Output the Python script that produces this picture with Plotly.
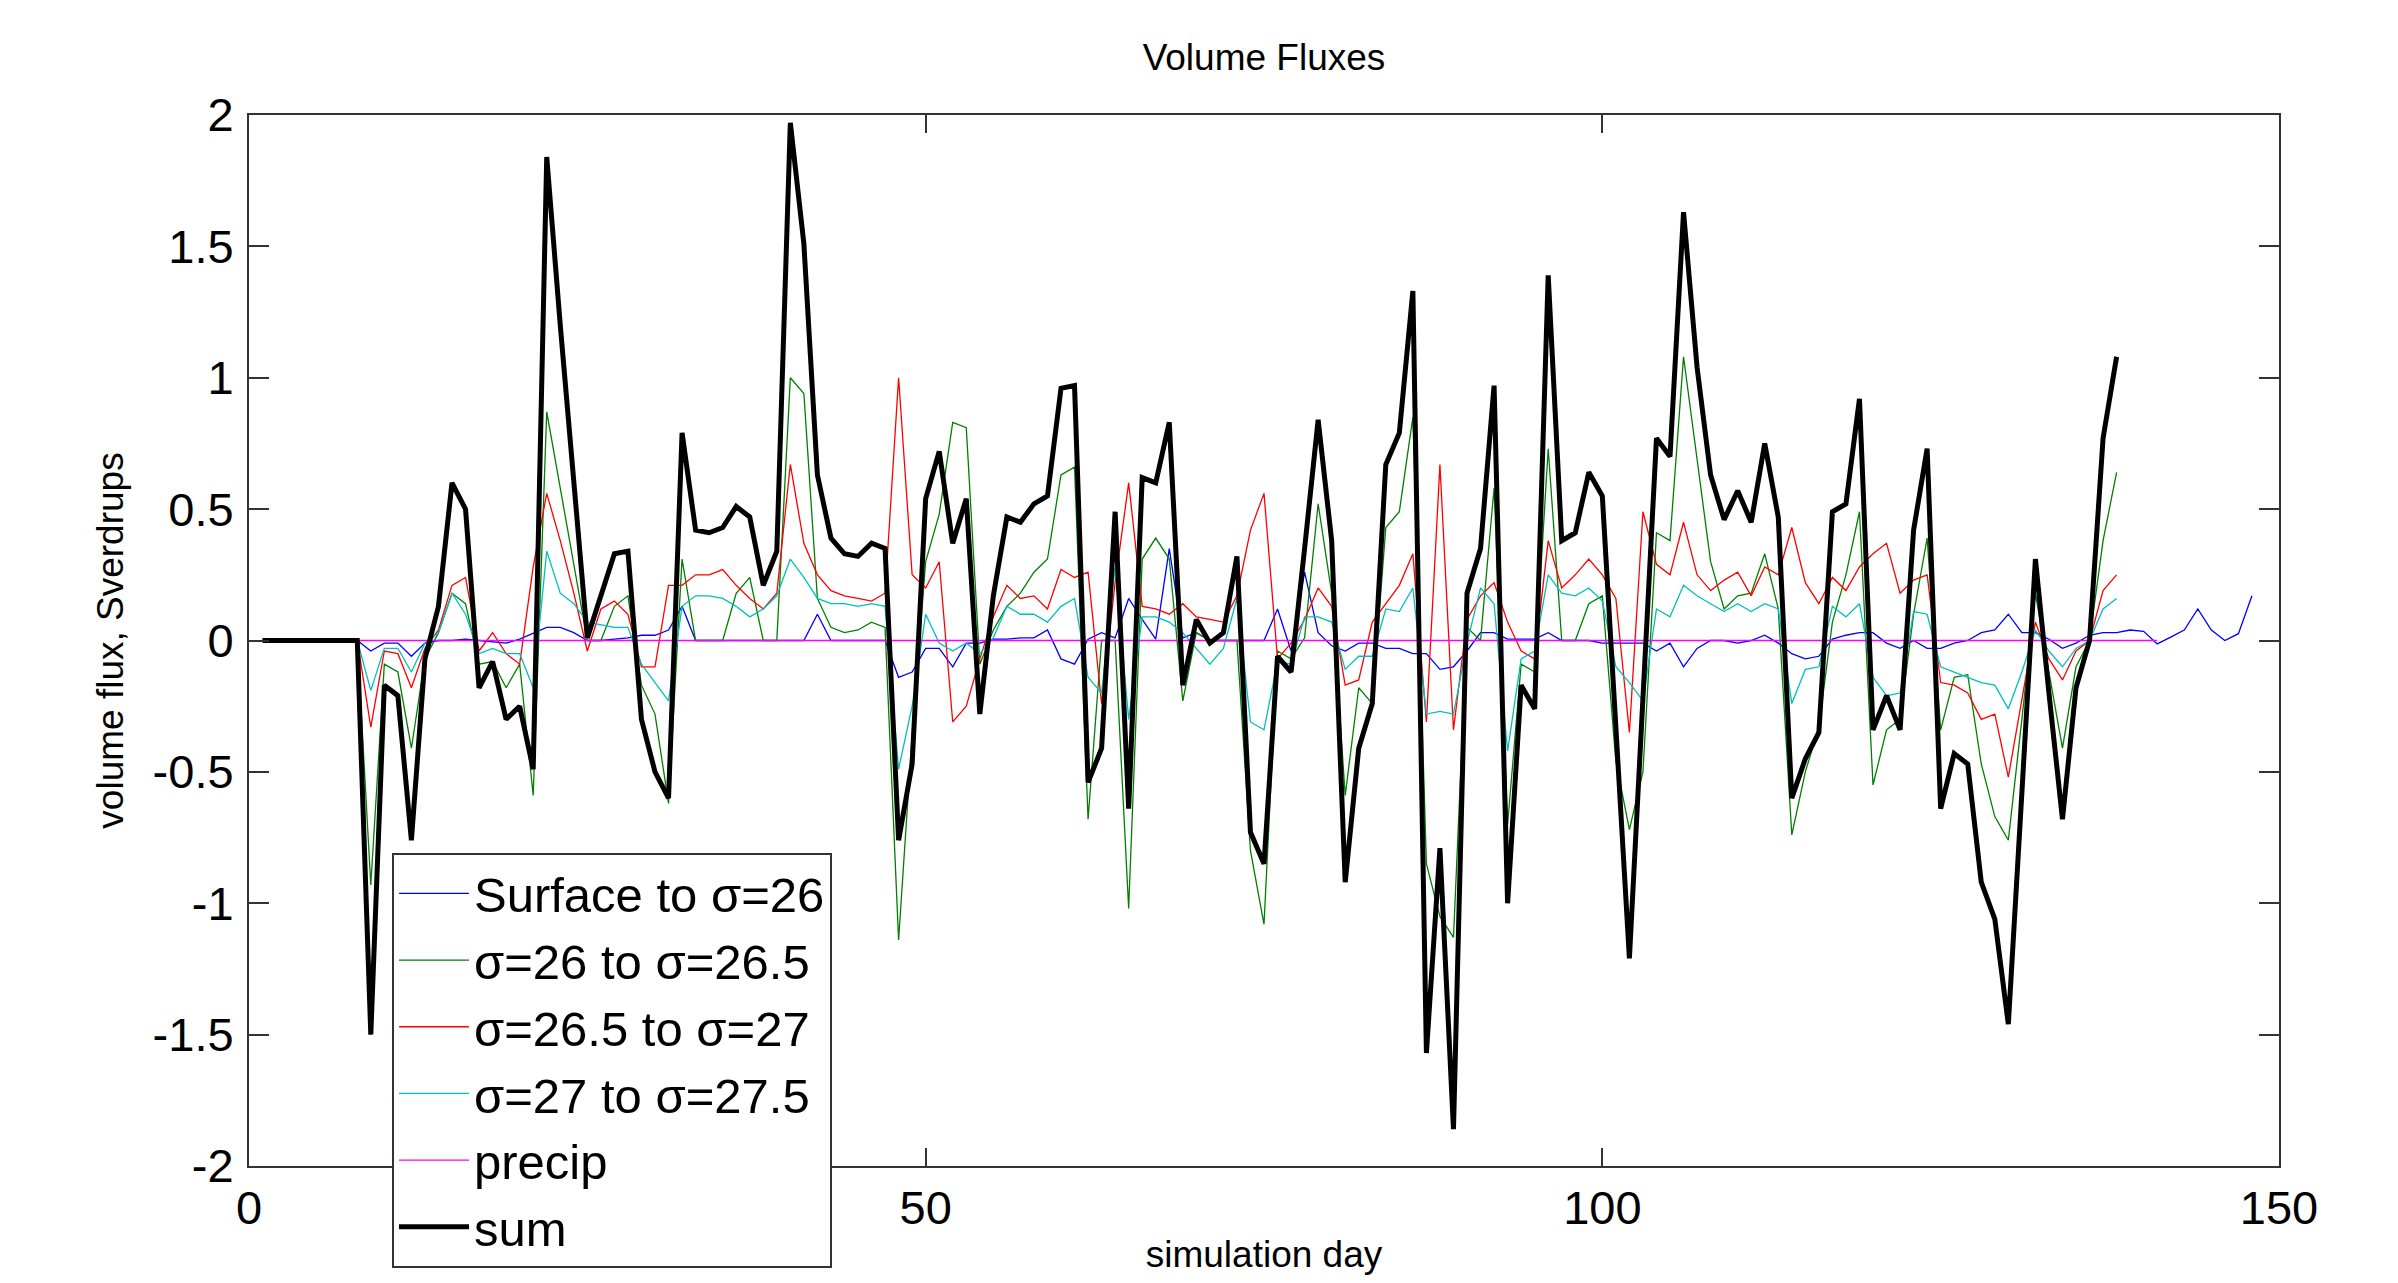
import plotly.graph_objects as go

# ---------------- data ----------------
blue_days = list(range(1, 149))
blue = [0, 0, 0, 0, 0, 0, 0, 0, -0.04, -0.01,
        -0.01, -0.06, -0.01, 0, 0, 0.005, 0, -0.005, -0.01, 0.005,
        0.026, 0.05, 0.05, 0.03, 0, 0, 0.005, 0.01, 0.02, 0.02,
        0.04, 0.13, 0, 0, 0, 0, 0, 0, 0, 0,
        0, 0.10, 0, 0, 0, 0, 0, -0.14, -0.12, -0.03,
        -0.03, -0.10, -0.01, -0.01, 0.005, 0.005, 0.01, 0.01, 0.04, -0.07,
        -0.09, 0.005, 0.03, 0.01, 0.16, 0.08, 0.005, 0.35, 0.01, 0.03,
        0, 0, 0, 0, 0, 0.12, -0.04, 0.26, 0.03, -0.02,
        -0.04, -0.01, -0.01, -0.03, -0.03, -0.05, -0.05, -0.11, -0.10, -0.04,
        0.03, 0.03, 0.005, 0.005, 0.005, 0.03, 0, 0, 0, -0.01,
        -0.01, -0.01, -0.01, -0.04, -0.01, -0.10, -0.03, 0, 0, -0.01,
        0, 0.02, -0.01, -0.05, -0.07, -0.06, 0.005, 0.02, 0.03, 0.03,
        -0.01, -0.03, 0, -0.03, -0.03, -0.01, 0, 0.03, 0.04, 0.10,
        0.03, 0.03, 0.005, -0.03, -0.01, 0.02, 0.03, 0.03, 0.04, 0.035,
        -0.013, 0.013, 0.04, 0.12, 0.04, 0, 0.026, 0.17]

layer_days = list(range(1, 139))
green = [0, 0, 0, 0, 0, 0, 0, 0, -0.93, -0.09,
         -0.12, -0.41, -0.07, 0.03, 0.18, 0.14, -0.09, -0.08, -0.18, -0.09,
         -0.59, 0.87, 0.58, 0.29, 0, 0, 0.13, 0.17, -0.17, -0.28,
         -0.62, 0.31, 0, 0, 0, 0.18, 0.24, 0, 0, 1.0,
         0.94, 0.16, 0.05, 0.03, 0.04, 0.07, 0.05, -1.14, -0.36, 0.30,
         0.48, 0.83, 0.81, -0.09, 0.04, 0.13, 0.18, 0.26, 0.31, 0.63,
         0.66, -0.68, 0, 0, -1.02, 0.31, 0.39, 0.31, -0.23, 0.03,
         0, 0, 0, -0.80, -1.08, -0.04, -0.07, 0.01, 0.52, 0.18,
         -0.59, -0.18, -0.24, 0.43, 0.49, 0.85, -0.85, -1.05, -1.13, 0.05,
         0, 0.58, -0.70, -0.09, -0.12, 0.73, 0, 0, 0.14, 0.17,
         -0.46, -0.72, -0.50, 0.41, 0.38, 1.08, 0.68, 0.30, 0.12, 0.17,
         0.18, 0.33, 0.12, -0.74, -0.50, -0.33, 0.07, 0.25, 0.49, -0.55,
         -0.34, -0.30, 0.10, 0.39, -0.34, -0.14, -0.13, -0.47, -0.67, -0.76,
         -0.30, 0.18, -0.12, -0.41, -0.10, 0, 0.38, 0.64]

red = [0, 0, 0, 0, 0, 0, 0, 0, -0.33, -0.04,
       -0.05, -0.18, -0.03, 0.04, 0.21, 0.24, -0.04, 0.03, -0.05, -0.09,
       0.28, 0.56, 0.38, 0.18, -0.04, 0.12, 0.15, 0.10, -0.10, -0.10,
       0.21, 0.21, 0.25, 0.25, 0.27, 0.21, 0.16, 0.12, 0.18, 0.67,
       0.37, 0.25, 0.19, 0.17, 0.16, 0.15, 0.18, 1.0, 0.25, 0.20,
       0.30, -0.31, -0.25, -0.07, 0.09, 0.21, 0.16, 0.17, 0.12, 0.27,
       0.24, 0.26, -0.24, 0.22, 0.60, 0.13, 0.12, 0.10, 0.14, 0.09,
       0.08, 0.07, 0.17, 0.42, 0.56, -0.07, -0.01, 0.08, 0.20, 0.13,
       -0.17, -0.15, 0.07, 0.14, 0.21, 0.33, -0.31, 0.67, -0.34, 0.08,
       0.17, 0.22, 0.07, -0.04, -0.07, 0.38, 0.20, 0.25, 0.31, 0.25,
       0.16, -0.35, 0.49, 0.29, 0.25, 0.45, 0.25, 0.19, 0.23, 0.26,
       0.17, 0.28, 0.25, 0.43, 0.22, 0.14, 0.24, 0.19, 0.28, 0.33,
       0.37, 0.18, 0.23, 0.25, -0.16, -0.17, -0.20, -0.30, -0.28, -0.52,
       -0.22, 0.07, -0.07, -0.15, -0.04, 0, 0.19, 0.25]

cyan = [0, 0, 0, 0, 0, 0, 0, 0, -0.19, -0.03,
        -0.03, -0.12, -0.01, 0.03, 0.18, 0.10, -0.05, -0.03, -0.05, -0.05,
        -0.18, 0.34, 0.18, 0.14, 0.07, 0.06, 0.05, 0.05, -0.09, -0.16,
        -0.23, 0.13, 0.17, 0.17, 0.16, 0.13, 0.09, 0.12, 0.17, 0.31,
        0.24, 0.16, 0.14, 0.14, 0.13, 0.14, 0.13, -0.49, -0.25, 0.10,
        -0.01, -0.04, -0.01, -0.05, 0.01, 0.13, 0.10, 0.10, 0.07, 0.13,
        0.16, -0.14, -0.20, 0.28, -0.30, 0.09, 0.09, 0.07, 0.03, -0.03,
        -0.09, -0.03, 0.16, -0.31, -0.34, -0.08, -0.09, 0.09, 0.09, 0.07,
        -0.11, -0.06, -0.06, 0.12, 0.11, 0.20, -0.28, -0.27, -0.28, -0.01,
        0.20, 0.14, -0.42, -0.07, -0.04, 0.25, 0.18, 0.17, 0.20, 0.15,
        -0.10, -0.16, -0.23, 0.12, 0.09, 0.21, 0.17, 0.14, 0.11, 0.14,
        0.11, 0.14, 0.12, -0.24, -0.11, -0.10, 0.13, 0.09, 0.14, -0.14,
        -0.21, -0.20, 0.11, 0.10, -0.10, -0.12, -0.14, -0.16, -0.17, -0.26,
        -0.12, 0.04, -0.04, -0.10, -0.03, 0, 0.12, 0.16]

precip_days = list(range(1, 142))
precip = [0.0] * 141

total = [0, 0, 0, 0, 0, 0, 0, 0, -1.50, -0.17,
         -0.21, -0.76, -0.07, 0.13, 0.60, 0.50, -0.18, -0.08, -0.30, -0.25,
         -0.49, 1.84, 1.20, 0.60, 0.01, 0.17, 0.33, 0.34, -0.30, -0.50,
         -0.60, 0.79, 0.42, 0.41, 0.43, 0.51, 0.47, 0.21, 0.34, 1.97,
         1.51, 0.63, 0.39, 0.33, 0.32, 0.37, 0.35, -0.76, -0.47, 0.54,
         0.72, 0.37, 0.54, -0.28, 0.17, 0.47, 0.45, 0.52, 0.55, 0.96,
         0.97, -0.54, -0.41, 0.49, -0.64, 0.62, 0.60, 0.83, -0.17, 0.08,
         -0.01, 0.03, 0.32, -0.73, -0.85, -0.06, -0.12, 0.35, 0.84, 0.38,
         -0.92, -0.41, -0.24, 0.67, 0.79, 1.33, -1.57, -0.79, -1.86, 0.18,
         0.35, 0.97, -1.0, -0.17, -0.26, 1.39, 0.38, 0.41, 0.64, 0.55,
         -0.33, -1.21, -0.22, 0.77, 0.70, 1.63, 1.04, 0.63, 0.46, 0.57,
         0.45, 0.75, 0.47, -0.60, -0.45, -0.35, 0.49, 0.52, 0.92, -0.34,
         -0.21, -0.34, 0.42, 0.73, -0.64, -0.43, -0.47, -0.92, -1.06, -1.46,
         -0.58, 0.31, -0.20, -0.68, -0.18, 0, 0.77, 1.08]

x_ticks = [0, 50, 100, 150]
x_tick_text = ["0", "50", "100", "150"]
y_ticks = [-2, -1.5, -1, -0.5, 0, 0.5, 1, 1.5, 2]
y_tick_text = ["-2", "-1.5", "-1", "-0.5", "0", "0.5", "1", "1.5", "2"]

series_names = ["Surface to σ=26", "σ=26 to σ=26.5", "σ=26.5 to σ=27",
                "σ=27 to σ=27.5", "precip", "sum"]

# ---------------- figure ----------------
# page has an 8px body margin, so the figure is sized to fit inside it
W, H = 2382, 1267
ML, MR, MT, MB = 241, 111, 107, 109
PW, PH = W - ML - MR, H - MT - MB

NARROW = "Liberation Sans Narrow, Arial Narrow, Liberation Sans, sans-serif"
ARIAL = "Liberation Sans, Arial, Helvetica, sans-serif"

fig = go.Figure()
specs = [
    (blue_days, blue, "#0000ff", 1.3),
    (layer_days, green, "#008000", 1.3),
    (layer_days, red, "#ff0000", 1.3),
    (layer_days, cyan, "#00bfbf", 1.3),
    (precip_days, precip, "#ff00ff", 1.3),
    (layer_days, total, "#000000", 5),
]
for (xs, ys, col, lw), name in zip(specs, series_names):
    fig.add_trace(go.Scatter(x=xs, y=ys, mode="lines", name=name,
                             line=dict(color=col, width=lw)))

axis_common = dict(showgrid=False, zeroline=False, showline=True,
                   linecolor="#333333", linewidth=2, mirror="ticks",
                   ticks="inside", tickcolor="#333333", tickwidth=1.5,
                   tickfont=dict(family=ARIAL, size=47, color="black"))

fig.update_layout(
    width=W, height=H,
    margin=dict(l=ML, r=MR, t=MT, b=MB, autoexpand=False),
    paper_bgcolor="white", plot_bgcolor="white",
    title=dict(text="Volume Fluxes", x=(ML + PW / 2) / W, xanchor="center",
               y=1 - 49 / H, yanchor="middle",
               font=dict(family=NARROW, size=37, color="black")),
    xaxis=dict(range=[0, 150], tickvals=x_ticks, ticktext=x_tick_text,
               ticklen=18, ticklabelstandoff=0,
               title=dict(text="simulation day", standoff=10,
                          font=dict(family=NARROW, size=37, color="black")),
               **axis_common),
    yaxis=dict(range=[-2, 2], tickvals=y_ticks, ticktext=y_tick_text,
               ticklen=20, ticklabelstandoff=4,
               title=dict(text="volume flux, Sverdrups", standoff=18,
                          font=dict(family=NARROW, size=37, color="black")),
               **axis_common),
    legend=dict(x=(384 - ML) / PW, y=(H - MB - 845) / PH,
                xanchor="left", yanchor="top",
                bgcolor="white", bordercolor="#333333", borderwidth=2,
                itemwidth=70,
                font=dict(family=ARIAL, size=49, color="black")),
    showlegend=True,
)

fig.write_html("out.html")
